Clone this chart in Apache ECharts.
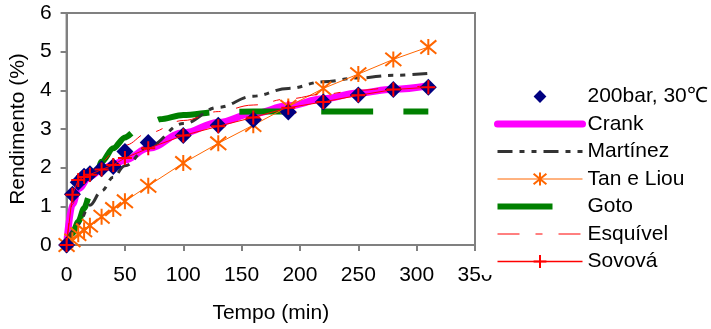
<!DOCTYPE html>
<html>
<head>
<meta charset="utf-8">
<script src="https://cdn.jsdelivr.net/npm/echarts@6/dist/echarts.min.js"></script>
<style>
  html, body { margin: 0; padding: 0; background: #fff; }
  #chart { width: 711px; height: 329px; }
</style>
</head>
<body>
<div id="chart"></div>
<script>
// tempo (min) dos pontos experimentais e dos modelos com marcadores
const tempoExp = [0, 5, 10, 15, 20, 30, 40, 50, 70, 100, 130, 160, 190, 220, 250, 280, 310];
const experimental = [0, 1.31, 1.62, 1.78, 1.84, 1.97, 2.03, 2.42, 2.65, 2.83, 3.10, 3.24, 3.44, 3.70, 3.88, 4.02, 4.08];
const tanLiou = [0, 0.12, 0.28, 0.38, 0.5, 0.73, 0.93, 1.13, 1.53, 2.12, 2.63, 3.1, 3.58, 4.05, 4.42, 4.8, 5.12];
const sovova = [0, 1.3, 1.68, 1.76, 1.82, 1.95, 2.07, 2.25, 2.5, 2.83, 3.07, 3.3, 3.55, 3.7, 3.87, 4.02, 4.08];

// curvas dos modelos
const tempoCrank = [0, 5, 10, 20, 30, 40, 50, 70, 100, 130, 160, 190, 220, 250, 280, 310];
const crank = [0, 1.05, 1.45, 1.78, 1.95, 2.08, 2.2, 2.5, 2.9, 3.17, 3.4, 3.6, 3.78, 3.93, 4.03, 4.12];
const tempoMartinez = [0, 10, 20, 30, 40, 50, 70, 100, 130, 160, 190, 220, 250, 280, 310];
const martinez = [0, 0.55, 1.03, 1.4, 1.75, 2.05, 2.55, 3.14, 3.56, 3.85, 4.05, 4.22, 4.32, 4.39, 4.44];
const tempoGoto = [0, 5, 10, 15, 20, 25, 30, 40, 50, 60, 70, 80, 100, 130, 160, 200, 250, 310];
const goto = [0, 0.3, 0.6, 0.95, 1.3, 1.75, 2.15, 2.5, 2.78, 2.97, 3.12, 3.25, 3.36, 3.44, 3.45, 3.45, 3.45, 3.45];
const tempoEsquivel = [0, 5, 10, 20, 30, 40, 50, 70, 100, 130, 160, 190, 220, 250, 280, 310];
const esquivel = [0, 1.05, 1.5, 1.9, 2.15, 2.38, 2.58, 2.9, 3.22, 3.45, 3.62, 3.78, 3.9, 4.0, 4.07, 4.12];

const xTicks = {min: 0, max: 350, interval: 50};
const yTicks = {min: 0, max: 6, interval: 1};

const pares = (xs, ys) => xs.map((x, i) => [x, ys[i]]);

const asterisco = "path://M0,0L10,10M10,0L0,10M5,-1L5,11";
const mais = "path://M5,0L5,10M0,5L10,5";
const fonte = "Liberation Sans, Arial, sans-serif";

const chart = echarts.init(document.getElementById("chart"));
chart.setOption({
  animation: false,
  textStyle: {fontFamily: fonte},
  grid: {
    left: 63,
    right: 236,
    top: 13,
    bottom: 81,
    show: true,
    borderColor: "#808080",
    borderWidth: 2
  },
  legend: {
    orient: "vertical",
    left: 481,
    top: 83,
    padding: [3, 4, 3, 13],
    backgroundColor: "#fff",
    itemWidth: 85,
    itemHeight: 16,
    itemGap: 6.5,
    textStyle: {fontSize: 21, color: "#000", fontFamily: fonte},
    data: [
      {name: "200bar, 30℃"},
      {name: "Crank", lineStyle: {color: "#FF00FF", width: 7, cap: "round"}},
      {name: "Martínez", lineStyle: {color: "#333333", width: 3, type: [15, 7, 5, 7, 5, 7]}},
      {name: "Tan e Liou", lineStyle: {color: "#FF6600", width: 1}},
      {name: "Goto", lineStyle: {color: "#008000", width: 6, type: [55, 40]}},
      {name: "Esquível", lineStyle: {color: "#FF0000", width: 1, type: [22, 16, 7, 16]}},
      {name: "Sovová", lineStyle: {color: "#FF0000", width: 1.5, type: "solid", opacity: 1},
        itemStyle: {color: "#FF0000", borderColor: "#FF0000", borderWidth: 2}}
    ]
  },
  xAxis: {
    type: "value",
    min: xTicks.min,
    max: xTicks.max,
    interval: xTicks.interval,
    name: "Tempo (min)",
    nameLocation: "middle",
    nameGap: 58,
    nameTextStyle: {fontSize: 21, color: "#000"},
    axisLine: {lineStyle: {color: "#808080", width: 2}},
    axisTick: {length: 6, lineStyle: {color: "#808080", width: 2}},
    axisLabel: {fontSize: 21, color: "#000", margin: 20, showMaxLabel: true},
    splitLine: {show: false}
  },
  yAxis: {
    type: "value",
    min: yTicks.min,
    max: yTicks.max,
    interval: yTicks.interval,
    name: "Rendimento (%)",
    nameLocation: "middle",
    nameGap: 35,
    nameTextStyle: {fontSize: 21, color: "#000"},
    axisLine: {lineStyle: {color: "#808080", width: 2}},
    axisTick: {length: 6, lineStyle: {color: "#808080", width: 2}},
    axisLabel: {fontSize: 21, color: "#000", margin: 15},
    splitLine: {show: false}
  },
  series: [
    {
      name: "200bar, 30℃",
      type: "line",
      symbol: "diamond",
      symbolSize: 17,
      showAllSymbol: true,
      lineStyle: {width: 0, opacity: 0},
      itemStyle: {color: "#000080"},
      z: 7,
      data: pares(tempoExp, experimental)
    },
    {
      name: "Crank",
      type: "line",
      smooth: 0.4,
      smoothMonotone: "x",
      symbol: "none",
      lineStyle: {color: "#FF00FF", width: 7, cap: "round"},
      itemStyle: {color: "#FF00FF", opacity: 0},
      z: 2,
      data: pares(tempoCrank, crank)
    },
    {
      name: "Martínez",
      type: "line",
      smooth: 0.4,
      smoothMonotone: "x",
      symbol: "none",
      lineStyle: {color: "#333333", width: 3, type: [15, 7, 5, 7, 5, 7]},
      itemStyle: {color: "#333333", opacity: 0},
      z: 4,
      data: pares(tempoMartinez, martinez)
    },
    {
      name: "Tan e Liou",
      type: "line",
      symbol: asterisco,
      symbolSize: 16,
      showAllSymbol: true,
      lineStyle: {color: "#FF6600", width: 1},
      itemStyle: {color: "#FF6600", borderColor: "#FF6600", borderWidth: 2},
      z: 5,
      data: pares(tempoExp, tanLiou)
    },
    {
      name: "Goto",
      type: "line",
      smooth: 0.3,
      smoothMonotone: "x",
      symbol: "none",
      lineStyle: {color: "#008000", width: 6, type: [52, 30]},
      itemStyle: {color: "#008000", opacity: 0},
      z: 3,
      data: pares(tempoGoto, goto)
    },
    {
      name: "Esquível",
      type: "line",
      smooth: 0.4,
      smoothMonotone: "x",
      symbol: "none",
      lineStyle: {color: "#FF0000", width: 1, type: [22, 16, 7, 16]},
      itemStyle: {color: "#FF0000", opacity: 0},
      z: 6,
      data: pares(tempoEsquivel, esquivel)
    },
    {
      name: "Sovová",
      type: "line",
      symbol: mais,
      symbolSize: 14,
      showAllSymbol: true,
      lineStyle: {color: "#FF0000", width: 1},
      itemStyle: {color: "#FF0000", borderColor: "#FF0000", borderWidth: 2},
      z: 8,
      data: pares(tempoExp, sovova)
    }
  ]
});
</script>
</body>
</html>
